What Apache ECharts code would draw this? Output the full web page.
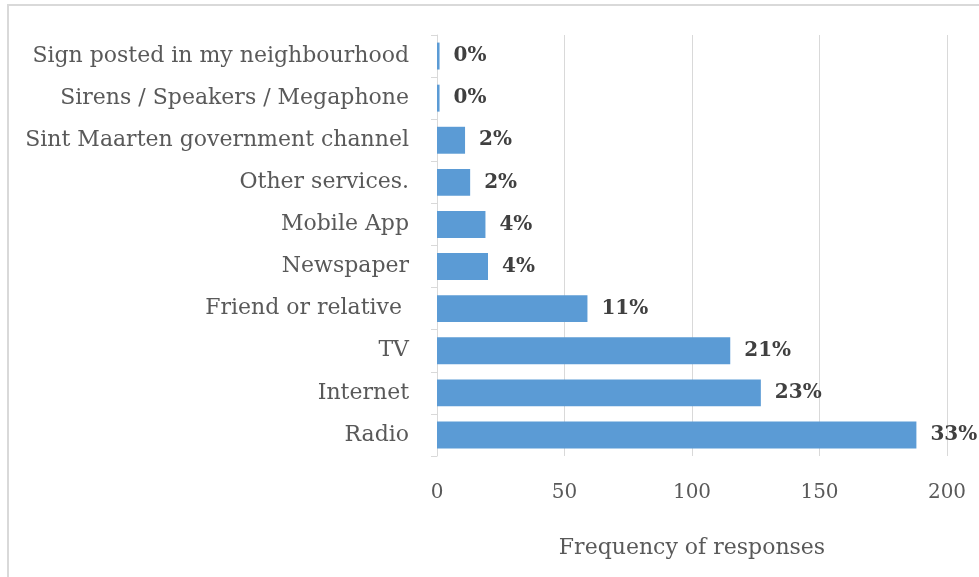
<!DOCTYPE html>
<html>
<head>
<meta charset="utf-8">
<script src="https://cdn.jsdelivr.net/npm/echarts@6/dist/echarts.min.js"></script>
<style>html,body{margin:0;padding:0;background:#fff;}#c{width:979px;height:577px;}</style>
</head>
<body>
<div id="c"></div>
<script>
var categories = ["Radio", "Internet", "TV", "Friend or relative ", "Newspaper", "Mobile App", "Other services.", "Sint Maarten government channel", "Sirens / Speakers / Megaphone", "Sign posted in my neighbourhood"];
var values = [188, 127, 115, 59, 20, 19, 13, 11, 1, 1];
var pctLabels = ["33%", "23%", "21%", "11%", "4%", "4%", "2%", "2%", "0%", "0%"];
var xTicks = [0, 50, 100, 150, 200];

var FONT = "'DejaVu Serif', serif";
var chart = echarts.init(document.getElementById('c'));
chart.setOption({
  animation: false,
  grid: { left: 437, right: 32, top: 35, bottom: 121, containLabel: false },
  graphic: [
    { type: 'line', shape: { x1: 7, y1: 5, x2: 979, y2: 5 }, style: { stroke: '#d9d9d9', lineWidth: 2 } },
    { type: 'line', shape: { x1: 8, y1: 4, x2: 8, y2: 577 }, style: { stroke: '#d9d9d9', lineWidth: 2 } }
  ],
  xAxis: {
    type: 'value', min: 0, max: 200, interval: 50,
    name: 'Frequency of responses', nameLocation: 'middle', nameGap: 81,
    nameTextStyle: { fontFamily: FONT, fontSize: 22, color: '#595959' },
    axisLine: { show: false }, axisTick: { show: false },
    axisLabel: { fontFamily: FONT, fontSize: 20, color: '#595959', margin: 27,
      formatter: function (v) { return xTicks.indexOf(v) >= 0 ? String(v) : ''; } },
    splitLine: { show: true, lineStyle: { color: '#d9d9d9', width: 1 } }
  },
  yAxis: {
    type: 'category', data: categories,
    axisLine: { show: true, lineStyle: { color: '#d9d9d9', width: 1 } },
    axisTick: { show: true, length: 6, lineStyle: { color: '#d9d9d9' } },
    axisLabel: { fontFamily: FONT, fontSize: 22, color: '#595959', margin: 28 }
  },
  series: [{
    type: 'bar', data: values, barCategoryGap: '36%',
    itemStyle: { color: '#5b9bd5' },
    label: { show: true, position: 'right', distance: 14,
      fontFamily: FONT, fontSize: 20, fontWeight: 'bold', color: '#404040',
      formatter: function (p) { return pctLabels[p.dataIndex]; } }
  }]
});
</script>
</body>
</html>
